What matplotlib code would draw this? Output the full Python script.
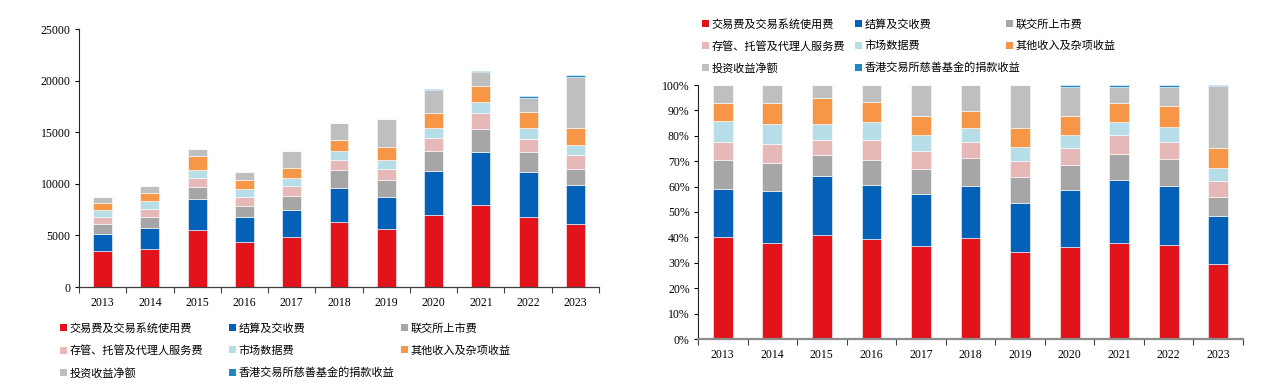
import matplotlib
matplotlib.use('Agg')
import matplotlib.pyplot as plt
from matplotlib.patches import Patch
from matplotlib.ticker import FixedLocator, PercentFormatter
import numpy as np

years = ['2013', '2014', '2015', '2016', '2017', '2018', '2019', '2020', '2021', '2022', '2023']
trading = [3500, 3720, 5480, 4365, 4805, 6310, 5590, 6950, 7930, 6830, 6075]
clearing = [1640, 1990, 3090, 2380, 2700, 3280, 3130, 4310, 5190, 4300, 3830]
listing = [1000, 1080, 1105, 1080, 1325, 1720, 1630, 1915, 2180, 1950, 1550]
depository = [620, 740, 840, 875, 910, 1000, 1045, 1270, 1520, 1225, 1300]
market_data = [720, 775, 815, 790, 850, 905, 915, 950, 1070, 1120, 1040]
other = [640, 800, 1370, 870, 980, 1065, 1230, 1475, 1590, 1515, 1600]
investment = [610, 695, 690, 735, 1590, 1600, 2725, 2180, 1310, 1390, 4990]
charity = [0, 0, 0, 0, 0, 0, 0, 150, 160, 140, 115]

labels = ['交易费及交易系统使用费', '结算及交收费', '联交所上市费',
          '存管、托管及代理人服务费', '市场数据费', '其他收入及杂项收益',
          '投资收益净额', '香港交易所慈善基金的捐款收益']
colors = ['#E3131B', '#0560B8', '#A6A6A6', '#E6B9B8', '#B7DEE8', '#F79646', '#BFBFBF', '#1F86C8']
series = [trading, clearing, listing, depository, market_data, other, investment, charity]

W, H = 1269, 385
fig = plt.figure(figsize=(W / 100, H / 100), dpi=100)

serif = 'Liberation Serif'
cjk = ['Noto Sans CJK SC', 'DejaVu Sans']


def ax_rect(x0, y0, x1, y1):
    return [x0 / W, 1 - y1 / H, (x1 - x0) / W, (y1 - y0) / H]


def draw(ax, data, bottom_color):
    x = np.arange(len(years))
    bottom = np.zeros(len(years))
    for vals, c in zip(data, colors):
        v = np.asarray(vals, dtype=float)
        ax.bar(x, v, width=0.4, bottom=bottom, color=c, edgecolor='white', linewidth=0.4)
        bottom += v
    ax.set_xlim(-0.5, len(years) - 0.5)
    ax.set_xticks(x)
    ax.set_xticklabels(years, fontfamily=serif, fontsize=8.5)
    ax.xaxis.set_minor_locator(FixedLocator(np.arange(-0.5, len(years), 1.0)))
    ax.tick_params(axis='x', which='major', length=0, pad=7)
    ax.tick_params(axis='x', which='minor', length=4, width=0.8, direction='out', color='#404040')
    ax.tick_params(axis='y', length=3, width=0.8, direction='out', pad=3, labelsize=8.5)
    for lab in ax.get_yticklabels():
        lab.set_fontfamily(serif)
    for s in ['top', 'right']:
        ax.spines[s].set_visible(False)
    ax.spines['left'].set_color('#262626')
    ax.spines['left'].set_linewidth(0.8)
    ax.spines['bottom'].set_color(bottom_color)


# Left chart: absolute values
ax1 = fig.add_axes(ax_rect(79, 29, 599, 287))
ax1.set_ylim(0, 25000)
ax1.set_yticks(np.arange(0, 25001, 5000))
draw(ax1, series, '#404040')
ax1.spines['bottom'].set_linewidth(0.9)

# Right chart: shares
totals = np.sum(np.array(series, dtype=float), axis=0)
shares = [np.asarray(s, dtype=float) / totals for s in series]
ax2 = fig.add_axes(ax_rect(698, 85, 1243, 339))
ax2.set_ylim(0, 1)
ax2.set_yticks(np.arange(0, 1.001, 0.1))
ax2.yaxis.set_major_formatter(PercentFormatter(1.0, decimals=0))
draw(ax2, shares, '#8C8C8C')
ax2.spines['bottom'].set_linewidth(1.6)

handles = [Patch(facecolor=c, edgecolor='none') for c in colors]


def legend_cols(xs, y_top, row_gap):
    for ci, xpx in enumerate(xs):
        idx = list(range(ci, len(labels), 3))
        fig.legend([handles[i] for i in idx], [labels[i] for i in idx],
                   loc='upper left', bbox_to_anchor=(xpx / W, 1 - y_top / H),
                   frameon=False, borderaxespad=0, borderpad=0,
                   handlelength=0.6, handleheight=0.6, handletextpad=0.25,
                   labelspacing=row_gap, prop={'family': cjk, 'size': 8})


legend_cols([60, 229, 401], 323, 1.05)
legend_cols([702, 855, 1006], 19, 1.0)

fig.savefig('out.png', dpi=100)
